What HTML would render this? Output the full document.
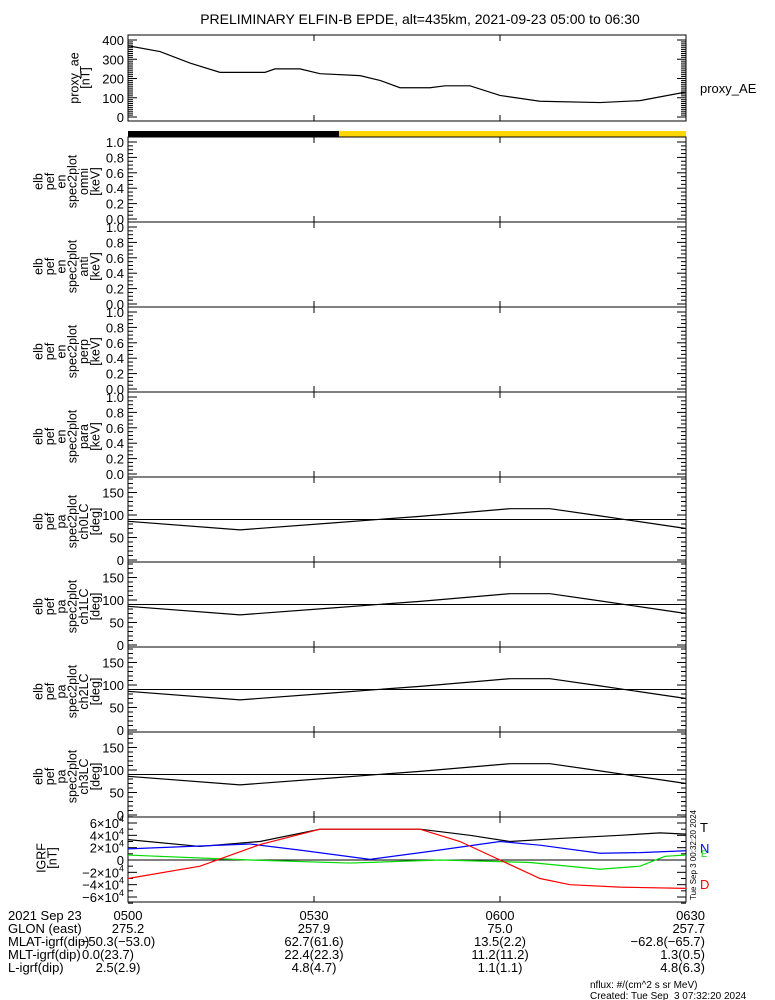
<!DOCTYPE html>
<html><head><meta charset="utf-8"><style>
body{margin:0;background:#fff;width:775px;height:1000px;overflow:hidden}
svg{display:block}
text{font-family:"Liberation Sans",sans-serif;fill:#000}
</style></head><body>
<svg id="s" width="775" height="1000" xmlns="http://www.w3.org/2000/svg"></svg>
<script>
const s=document.getElementById('s');let h='';
const L=128,R=686;
function t(x,y,str,sz,anch,extra){h+=`<text x="${x}" y="${y}" font-size="${sz||13}" text-anchor="${anch||'start'}" ${extra||''}>${str}</text>`;}
function ln(x1,y1,x2,y2,c,w){h+=`<line x1="${x1}" y1="${y1}" x2="${x2}" y2="${y2}" stroke="${c||'#000'}" stroke-width="${w||1}"/>`;}
function pl(pts,c){h+=`<polyline fill="none" stroke="${c||'#000'}" stroke-width="1.2" points="${pts.map(p=>p.join(',')).join(' ')}"/>`;}
function box(top,bot){h+=`<rect x="${L}" y="${top}" width="${R-L}" height="${bot-top}" fill="none" stroke="#000"/>`;
 for(let i=0;i<=3;i++){const x=L+i*186;ln(x,top,x,top+6);ln(x,bot,x,bot-6);}
}
function yt(y,len){ln(L,y,L+len,y);ln(R,y,R-len,y);}
function vlabel(cx,cy,lines){
 let g=`<g transform="translate(${cx},${cy}) rotate(-90)">`;
 const n=lines.length;
 lines.forEach((l,i)=>{const dy=(i-(n-1)/2)*11.4+4;g+=`<text x="0" y="${dy}" font-size="12.5" text-anchor="middle">${l}</text>`;});
 h+=g+'</g>';
}
t(420,24,'PRELIMINARY ELFIN-B EPDE, alt=435km, 2021-09-23 05:00 to 06:30',14,'middle');
box(35,121);
for(let v=0;v<=400;v+=10){const y=117-v*0.1925;yt(y,v%100==0?9:5);}
[0,100,200,300,400].forEach(v=>t(124,117-v*0.1925+5,v,13,'end'));
vlabel(80,78,['proxy_ae','[nT]']);
const ae=[[128,370],[160,340],[190,280],[220,232],[265,232],[275,250],[300,250],[320,225],[360,215],[380,190],[400,152],[430,152],[445,162],[470,162],[500,112],[540,82],[600,75],[640,85],[686,130]];
pl(ae.map(p=>[p[0],117-p[1]*0.1925]));
t(700,93,'proxy_AE',13);
h+=`<rect x="128" y="131" width="211" height="6" fill="#000"/><rect x="339" y="131" width="347" height="6" fill="#ffd700"/>`;
const spl=['omni','anti','perp','para'];
for(let i=0;i<4;i++){const top=137+i*85,bot=top+85;box(top,bot);
 for(let v=0;v<=20;v++){const y=bot-3-v*0.05*77;yt(y,v%4==0?9:5);}
 [0,0.2,0.4,0.6,0.8,1.0].forEach(v=>t(124,bot-3-v*77+5,v.toFixed(1),13,'end'));
 vlabel(67,(top+bot)/2+2,['elb','pef','en','spec2plot',spl[i],'[keV]']);
}
const ch=['ch0LC','ch1LC','ch2LC','ch3LC'];
for(let i=0;i<4;i++){const top=477+i*85,bot=top+85;box(top,bot);const z=bot-2;
 for(let v=0;v<=180;v+=10){const y=z-v*0.45;yt(y,v%50==0?9:5);}
 [0,50,100,150].forEach(v=>t(124,z-v*0.45+5,v,13,'end'));
 vlabel(67,(top+bot)/2+2,['elb','pef','pa','spec2plot',ch[i],'[deg]']);
 ln(L,z-90*0.45,R,z-90*0.45);
 const d=[[128,86],[240,67],[330,82],[420,97],[510,114],[550,114],[600,98],[686,70]];
 pl(d.map(p=>[p[0],z-p[1]*0.45]));
}
box(817,902);const z0=860,k=37/6;
for(let v=-7;v<=7;v++){const y=z0-v*k;yt(y,v%2==0?9:5);}
[6,4,2,-2,-4,-6].forEach(v=>t(124,z0-v*k+5,(v<0?'−':'')+Math.abs(v)+'×10<tspan font-size="9" dy="-6">4</tspan>',13,'end'));
t(124,z0+5,'0',13,'end');
vlabel(47,858,['IGRF','[nT]']);
ln(L,z0,R,z0);
const f=p=>p.map(q=>[q[0],z0-q[1]*k]);
pl(f([[128,3.3],[200,2.2],[260,3],[320,5],[420,5],[470,4],[510,3],[560,3.5],[620,4],[660,4.4],[686,4.2]]),'#000');
pl(f([[128,1.8],[250,2.6],[300,1.6],[370,0.1],[430,1.4],[500,3],[540,2.4],[600,1.1],[640,1.2],[686,1.5]]),'#0000ff');
pl(f([[128,0.8],[250,0],[350,-0.5],[440,0],[530,-0.4],[600,-1.5],[640,-1],[665,0.6],[686,0.8]]),'#00dd00');
pl(f([[128,-3],[200,-1],[260,2.5],[320,5],[420,5],[460,3],[500,0],[540,-3],[570,-4],[620,-4.4],[686,-4.6]]),'#ff0000');
t(700,832,'T',13);t(700,853,'N',13,'start','style="fill:#0000ff"');t(701,857,'E',9,'start','style="fill:#00cc00"');t(700,889,'D',13,'start','style="fill:#ff0000"');
h+=`<text transform="translate(696,900) rotate(-90)" font-size="8">Tue Sep  3 00:32:20 2024</text>`;
const rows=[['2021 Sep 23','0500','0530','0600','0630'],['GLON (east)','275.2','257.9','75.0','257.7'],['MLAT-igrf(dip)','-50.3(-53.0)','62.7(61.6)','13.5(2.2)','-62.8(-65.7)'],['MLT-igrf(dip)','0.0(23.7)','22.4(22.3)','11.2(11.2)','1.3(0.5)'],['L-igrf(dip)','2.5(2.9)','4.8(4.7)','1.1(1.1)','4.8(6.3)']];
rows.forEach((r,i)=>{const y=920+i*13;t(8,y,r[0],13);
 const xs=[128,314,500,686];
 for(let j=1;j<5;j++){const x=xs[j-1];const a=j==1?'middle':(j==4?'end':'middle');let xx=j==4?705:x;if(j==1&&i>=2)xx=i==2?118:i==3?108:118;t(xx,y,r[j].replace(/-/g,'−'),13,a);}
});
t(590,988,'nflux: #/(cm^2 s sr MeV)',10);
t(590,999,'Created: Tue Sep  3 07:32:20 2024',10,'start','xml:space="preserve"');
s.innerHTML=h;
</script>
</body></html>
